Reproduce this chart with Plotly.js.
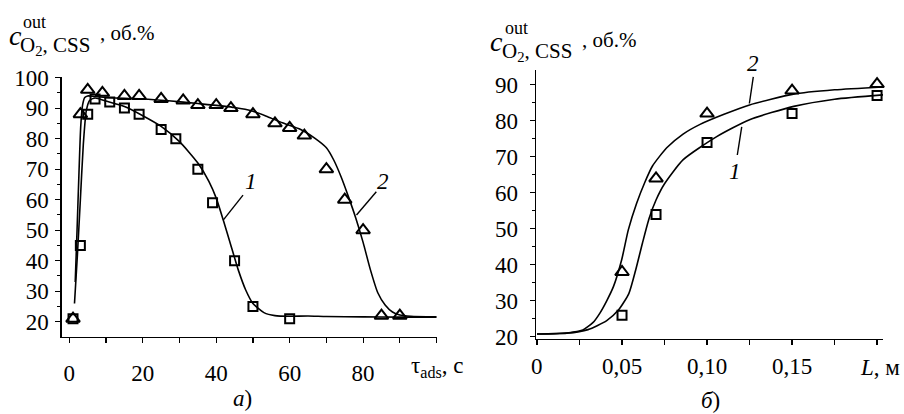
<!DOCTYPE html>
<html><head><meta charset="utf-8">
<script src="https://cdn.plot.ly/plotly-3.0.1.min.js"></script>
<style>html,body{margin:0;padding:0;background:#fff}</style>
</head><body>
<div id="chart" style="width:904px;height:414px"></div>
<script>
// ---- Panel a): outlet O2 concentration vs adsorption time ----
var tSq = [1, 3, 5, 7, 11, 15, 19, 25, 29, 35, 39, 45, 50, 60];
var cSq = [21, 45, 88, 93, 92, 90, 88, 83, 80, 70, 59, 40, 25, 21];
var tTri = [1, 3, 5, 9, 15, 19, 25, 31, 35, 40, 44, 50, 56, 60, 64, 70, 75, 80, 85, 90];
var cTri = [21, 88, 96, 95, 94, 94, 93, 92.5, 91, 91, 90, 88, 85, 83.5, 81, 70, 60, 50, 22, 22];
var fitT1 = [1.4, 2.2, 3.0, 3.8, 4.6, 5.5, 7, 10, 15, 20, 25, 30, 35, 38, 40, 42, 44, 46, 48, 50, 53, 56, 60, 65, 70, 80, 90, 100];
var fitC1 = [26, 42, 60, 78, 89, 92.5, 93.3, 92.3, 90.5, 87.5, 84, 79, 72, 66, 60.5, 53, 45, 37, 30.5, 26, 23, 22, 21.8, 21.9, 21.7, 21.6, 21.5, 21.5];
var fitT2 = [1.6, 2.1, 2.6, 3.1, 3.6, 4.2, 5, 7, 10, 15, 20, 27, 35, 45, 50, 54, 58, 63, 67, 70, 72, 74, 76, 78, 80, 82, 84, 86, 88, 90, 93, 100];
var fitC2 = [33, 50, 68, 84, 91, 93.5, 94, 93.8, 93.5, 93.2, 93, 92.4, 91.5, 90.2, 89, 87.2, 85.2, 83, 80, 77, 73, 67.5, 61, 54, 46, 37, 29.5, 25.5, 23.2, 22.2, 21.8, 21.6];
var xTicksA = [0, 20, 40, 60, 80];
var yTicksA = [20, 30, 40, 50, 60, 70, 80, 90, 100];

// ---- Panel б): outlet O2 concentration vs bed length ----
var L = [0.05, 0.07, 0.10, 0.15, 0.20];
var cSqR = [26, 54, 74, 82, 87];
var cTriR = [38, 64, 82, 88.4, 90.2];
var fitL1 = [0, 0.0175, 0.03, 0.041, 0.048, 0.054, 0.058, 0.062, 0.066, 0.070, 0.075, 0.086, 0.1057, 0.125, 0.151, 0.175, 0.2035];
var fitC1R = [20.8, 21, 22, 24.5, 27.5, 32, 38.5, 46, 53, 58, 62.5, 69.2, 75.6, 80.3, 84, 86, 87.2];
var fitL2 = [0, 0.01, 0.02, 0.027, 0.033, 0.037, 0.041, 0.045, 0.0498, 0.0537, 0.0586, 0.0635, 0.068, 0.0763, 0.0859, 0.0959, 0.11, 0.125, 0.1508, 0.175, 0.2035];
var fitC2R = [20.8, 20.9, 21.2, 21.9, 24, 26.6, 30, 34, 41.4, 49.7, 57.1, 63, 67.5, 72.5, 76.3, 79, 81.8, 84.4, 87.4, 88.6, 89.4];
var xTicksB = [0, 0.05, 0.10, 0.15];
var xTextB = ['0', '0,05', '0,10', '0,15'];
var yTicksB = [20, 30, 40, 50, 60, 70, 80, 90];

var FONT = '"Liberation Serif", "Times New Roman", serif';
var TICKSIZE = 23;
var lineStyle = {color: '#000', width: 1.6, shape: 'spline', smoothing: 0.6};
var sqMarker = {symbol: 'square-open', size: 9, color: '#000', line: {width: 2, color: '#000'}};
var triMarker = {symbol: 'triangle-up-open', size: 12, color: '#000', line: {width: 2, color: '#000'}};

var traces = [
  {x: fitT1, y: fitC1, mode: 'lines', line: lineStyle, xaxis: 'x', yaxis: 'y'},
  {x: fitT2, y: fitC2, mode: 'lines', line: lineStyle, xaxis: 'x', yaxis: 'y'},
  {x: tSq, y: cSq, mode: 'markers', marker: sqMarker, xaxis: 'x', yaxis: 'y', cliponaxis: false},
  {x: tTri, y: cTri, mode: 'markers', marker: triMarker, xaxis: 'x', yaxis: 'y', cliponaxis: false},
  {x: fitL1, y: fitC1R, mode: 'lines', line: lineStyle, xaxis: 'x2', yaxis: 'y2'},
  {x: fitL2, y: fitC2R, mode: 'lines', line: lineStyle, xaxis: 'x2', yaxis: 'y2'},
  {x: L, y: cSqR, mode: 'markers', marker: sqMarker, xaxis: 'x2', yaxis: 'y2', cliponaxis: false},
  {x: L, y: cTriR, mode: 'markers', marker: triMarker, xaxis: 'x2', yaxis: 'y2', cliponaxis: false}
];

function axisBase() {
  return {
    showgrid: false, zeroline: false, showline: true, linecolor: '#000', linewidth: 1.3,
    ticks: 'outside', ticklen: 5, tickwidth: 1.2, tickcolor: '#000',
    tickfont: {family: FONT, size: TICKSIZE, color: '#000'}, fixedrange: true
  };
}
var xa = Object.assign(axisBase(), {domain: [0.0683, 0.4831], range: [-2.07, 100.05], tickmode: 'array', tickvals: xTicksA,
  minor: {dtick: 10, tick0: 0, ticklen: 5, tickwidth: 1.2, tickcolor: '#000', ticks: 'outside'}, anchor: 'y', ticklabelstandoff: 10});
var ya = Object.assign(axisBase(), {domain: [0.1867, 0.8133], range: [15.1, 100.1], tickmode: 'array', tickvals: yTicksA,
  minor: {dtick: 5, tick0: 0, ticklen: 3, tickwidth: 1, tickcolor: '#000', ticks: 'outside'}, anchor: 'x', ticklabelstandoff: 2});
var xb = Object.assign(axisBase(), {domain: [0.5929, 0.9768], range: [-0.0006, 0.2035], tickmode: 'array', tickvals: xTicksB,
  showticklabels: false,
  minor: {dtick: 0.025, tick0: 0, ticklen: 5, tickwidth: 1.2, tickcolor: '#000', ticks: 'outside'}, anchor: 'y2'});
var yb = Object.assign(axisBase(), {domain: [0.1812, 0.8309], range: [19.4, 94.1], tickmode: 'array', tickvals: yTicksB,
  minor: {dtick: 5, tick0: 0, ticklen: 3, tickwidth: 1, tickcolor: '#000', ticks: 'outside'}, anchor: 'x2', ticklabelstandoff: 7});

function txt(x, y, text, size, opts) {
  return Object.assign({xref: 'paper', yref: 'paper', x: x / 904, y: 1 - y / 414, text: text, showarrow: false,
    xanchor: 'left', yanchor: 'middle', font: {family: FONT, size: size, color: '#000'}}, opts || {});
}
function dtxt(xr, yr, x, y, text) {
  return {xref: xr, yref: yr, x: x, y: y, text: text, showarrow: false, xanchor: 'center', yanchor: 'middle',
    font: {family: FONT, size: 23, color: '#000'}};
}
var annotations = [
  // panel a title
  txt(7, 35, '<i>c</i>', 28),
  txt(21, 22, 'out', 18),
  txt(18, 46, 'O<sub>2</sub>, CSS', 21),
  txt(98, 33, ', об.%', 21),
  // panel b title
  txt(488, 41, '<i>c</i>', 28),
  txt(503, 28, 'out', 18),
  txt(500, 52, 'O<sub>2</sub>, CSS', 21),
  txt(580, 40, ', об.%', 21),
  // axis end labels
  txt(437, 367, 'τ<sub>ads</sub>, с', 23, {xanchor: 'center'}),
  txt(880, 367, '<i>L</i>, м', 23, {xanchor: 'center'}),
  // captions
  txt(242, 398, '<i>а</i>)', 23, {xanchor: 'center'}),
  txt(710, 400, '<i>б</i>)', 23, {xanchor: 'center'}),
  // curve labels
  dtxt('x', 'y', 49.6, 65.8, '<i>1</i>'),
  dtxt('x', 'y', 85.4, 65.8, '<i>2</i>'),
  txt(753, 63, '<i>2</i>', 23, {xanchor: 'center'}),
  dtxt('x2', 'y2', 0.1165, 65.8, '<i>1</i>')
];
// x tick labels of panel б placed through the x2 axis
xTicksB.forEach(function (v, i) {
  annotations.push({xref: 'x2', yref: 'paper', x: v, y: 1 - 366 / 414, text: xTextB[i], showarrow: false,
    xanchor: 'center', yanchor: 'middle', font: {family: FONT, size: TICKSIZE, color: '#000'}});
});
var shapes = [
  {type: 'line', xref: 'x', yref: 'y', x0: 47.3, y0: 61.5, x1: 41.9, y1: 53.3, line: {color: '#000', width: 1.4}},
  {type: 'line', xref: 'x', yref: 'y', x0: 83.6, y0: 62.6, x1: 78.2, y1: 55.0, line: {color: '#000', width: 1.4}},
  {type: 'line', xref: 'x2', yref: 'y2', x0: 0.1272, y0: 92.2, x1: 0.1249, y1: 84.8, line: {color: '#000', width: 1.4}},
  {type: 'line', xref: 'x2', yref: 'y2', x0: 0.1178, y0: 70.5, x1: 0.1204, y1: 78.3, line: {color: '#000', width: 1.4}}
];

var layout = {
  width: 904, height: 414, autosize: false,
  margin: {l: 0, r: 0, t: 0, b: 0, pad: 0},
  paper_bgcolor: '#fff', plot_bgcolor: '#fff', showlegend: false,
  font: {family: FONT, color: '#000'},
  xaxis: xa, yaxis: ya, xaxis2: xb, yaxis2: yb,
  annotations: annotations, shapes: shapes
};
Plotly.newPlot('chart', traces, layout, {staticPlot: true, displayModeBar: false});
</script>
</body></html>
